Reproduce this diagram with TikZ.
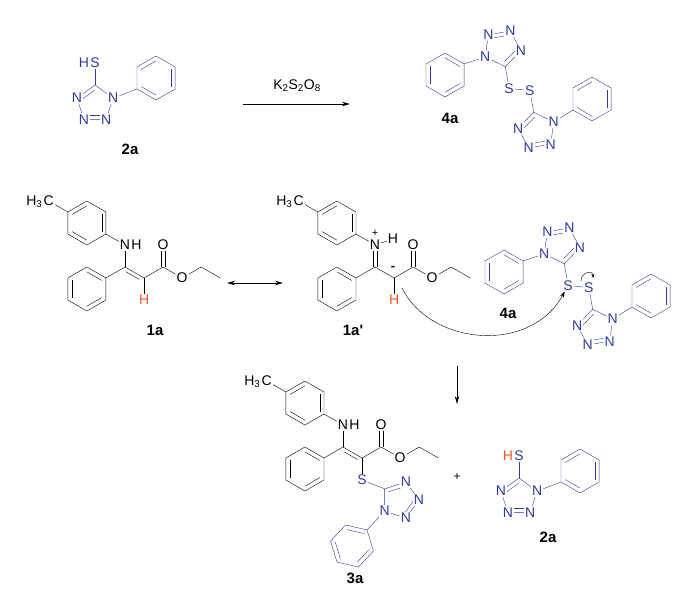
\documentclass[tikz,border=0pt]{standalone}
\usepackage{fontspec}
\setmainfont{Liberation Sans}
\usetikzlibrary{arrows.meta}
\usetikzlibrary{calc}
\usetikzlibrary{positioning}
\definecolor{chemblue}{RGB}{48,60,160}
\definecolor{chemred}{RGB}{238,84,40}
\pgfdeclarelayer{fg}
\pgfsetlayers{main,fg}
\tikzset{atom/.style={font=\fontsize{14}{16}\selectfont, inner sep=1pt, fill=white}}
\tikzset{cmpd/.style={font=\bfseries\fontsize{15}{17}\selectfont}}
\tikzset{reag/.style={font=\fontsize{14}{16}\selectfont}}
\tikzset{chg/.style={font=\fontsize{11}{12}\selectfont, inner sep=0pt}}
\tikzset{rxn/.style={-{Stealth[length=8pt,width=4.5pt]}, line width=0.9pt}}
\tikzset{blueunit/.style={color=chemblue, every node/.append style={text=chemblue}}}

\newcommand{\benz}[3]{%
  \coordinate (#1) at #2;
  \foreach \k in {1,...,6}{%
    \pgfmathsetmacro\ang{#3+60*(\k-1)}
    \coordinate (#1-\k) at ($(#1)+(\ang:22pt)$);
  }
  \draw (#1-1) -- (#1-2) -- (#1-3) -- (#1-4) -- (#1-5) -- (#1-6) -- cycle;
  \foreach \p/\q in {1/2,3/4,5/6}
    \draw ($(#1)!0.78!(#1-\p)$) -- ($(#1)!0.78!(#1-\q)$);
}

\newcommand{\tetz}[4]{%
  \coordinate (#1) at #2;
  \coordinate (#1-c) at ($(#1)+(#3:19pt)$);
  \begin{pgfonlayer}{fg}
    \foreach \k in {1,...,4}{%
      \pgfmathsetmacro\ang{#3-(#4)*72*\k}
      \node[atom] (#1-n\k) at ($(#1)+(\ang:19pt)$) {N};
    }
  \end{pgfonlayer}
  \draw (#1-c) -- (#1-n1) -- (#1-n2) -- (#1-n3) -- (#1-n4) -- (#1-c);
  \draw ($(#1)!0.74!(#1-c)$) -- ($(#1)!0.74!(#1-n4.center)$);
  \draw ($(#1)!0.74!(#1-n2.center)$) -- ($(#1)!0.74!(#1-n3.center)$);
}

\newcommand{\thiol}[2]{%
  \tetz{#1}{(95,-104)}{90}{1}
  \begin{pgfonlayer}{fg}
    \node[atom] (#1-s) at ($(#1-c)+(90:22pt)$) {S};
    \node[atom, anchor=base east, inner xsep=0pt, text=#2] (#1-h) at (#1-s.base west) {H};
  \end{pgfonlayer}
  \draw (#1-c) -- (#1-s);
  \benz{#1-ph}{(156,-78)}{210}
  \draw (#1-n1) -- (#1-ph-1);
}

\newcommand{\disulf}[1]{%
  \tetz{#1-t}{(561,-245)}{280}{1}
  \tetz{#1-b}{(596,-328)}{100}{1}
  \begin{pgfonlayer}{fg}
    \node[atom] (#1-sa) at ($(#1-t-c)+(280:22pt)$) {S};
    \node[atom] (#1-sb) at ($(#1-b-c)+(100:22pt)$) {S};
  \end{pgfonlayer}
  \draw (#1-t-c) -- (#1-sa) -- (#1-sb) -- (#1-b-c);
  \benz{#1-pt}{(504,-272)}{30}
  \benz{#1-pb}{(651,-296)}{210}
  \draw (#1-t-n1) -- (#1-pt-1);
  \draw (#1-b-n1) -- (#1-pb-1);
}

\newcommand{\skel}[1]{%
  \coordinate (#1-c3) at (125,-267);
  \coordinate (#1-c2) at ($(#1-c3)+(-30:22pt)$);
  \coordinate (#1-c1) at ($(#1-c2)+(30:22pt)$);
  \begin{pgfonlayer}{fg}
    \node[atom] (#1-n) at ($(#1-c3)+(90:22pt)$) {N};
    \node[atom] (#1-o) at ($(#1-c1)+(90:22pt)$) {O};
    \node[atom] (#1-oe) at ($(#1-c1)+(-30:22pt)$) {O};
    \node[atom] (#1-me) at ($(#1-n.center)+(150:88pt)$) {C};
    \node[atom, anchor=base east, inner xsep=0pt] (#1-meh) at (#1-me.base west) {H\textsubscript{3}};
  \end{pgfonlayer}
  \coordinate (#1-ch2) at ($(#1-oe.center)+(30:22pt)$);
  \coordinate (#1-ch3) at ($(#1-ch2)+(-30:22pt)$);
  \benz{#1-tol}{($(#1-n.center)+(150:44pt)$)}{-30}
  \benz{#1-ph}{($(#1-c3)+(210:44pt)$)}{30}
  \draw (#1-n) -- (#1-tol-1);
  \draw (#1-tol-4) -- (#1-me);
  \draw (#1-c3) -- (#1-ph-1);
  \draw (#1-c3) -- (#1-c2) -- (#1-c1) -- (#1-oe) -- (#1-ch2) -- (#1-ch3);
  \draw ([xshift=-1.8pt]#1-c1) -- ([xshift=-1.8pt]#1-o.south);
  \draw ([xshift=1.8pt]#1-c1) -- ([xshift=1.8pt]#1-o.south);
}

\begin{document}
\begin{tikzpicture}[x=1pt, y=1pt, line width=0.85pt, line join=round]
\useasboundingbox (0,0) rectangle (700,-597);

\begin{scope}[blueunit]
  \thiol{2at}{chemblue}
\end{scope}
\node[cmpd] (l2at) at (130,-149) {2a};

\coordinate (ox-s) at (243,-104);
\coordinate (ox-e) at (350,-104);
\draw[rxn] (ox-s) -- (ox-e);
\node[reag] (ox) at (297,-86) {K\textsubscript{2}S\textsubscript{2}O\textsubscript{8}};

\begin{scope}[blueunit, shift={(-59,197)}]
  \disulf{4at}
\end{scope}
\node[cmpd] (l4at) at (450,-118) {4a};

\skel{1a}
\begin{pgfonlayer}{fg}
  \node[atom, anchor=base west, inner xsep=0pt] (1a-nh) at (1a-n.base east) {H};
  \node[atom, text=chemred] (1a-h) at ($(1a-c2)+(-90:22pt)$) {H};
\end{pgfonlayer}
\draw (1a-n) -- (1a-c3);
\draw ($(1a-c3)!0.15!(1a-c2)+(-120:3.6pt)$) -- ($(1a-c3)!0.85!(1a-c2)+(-120:3.6pt)$);
\draw (1a-c2) -- (1a-h);
\node[cmpd] (l1a) at (155,-330) {1a};

\coordinate (res-l) at (227,-283);
\coordinate (res-r) at (283,-283);
\draw[rxn, {Stealth[length=8pt,width=4.5pt]}-{Stealth[length=8pt,width=4.5pt]}] (res-l) -- (res-r);

\begin{scope}[shift={(250,0)}]
  \skel{1ap}
  \begin{pgfonlayer}{fg}
    \node[atom] (1ap-nh) at ($(1ap-n.center)+(18,6)$) {H};
    \node[atom, text=chemred] (1ap-h) at ($(1ap-c2)+(-90:22pt)$) {H};
  \end{pgfonlayer}
  \node[chg] (1ap-plus) at ($(1ap-n.center)+(0,12)$) {+};
  \node[chg, font=\bfseries\fontsize{13}{13}\selectfont] (1ap-minus) at ($(1ap-c2)+(-1,10)$) {-};
  \draw (1ap-n) -- (1ap-nh);
  \draw ([xshift=-1.8pt]1ap-n.south) -- ([xshift=-1.8pt]1ap-c3);
  \draw ([xshift=1.8pt]1ap-n.south) -- ([xshift=1.8pt]1ap-c3);
  \draw (1ap-c2) -- (1ap-h);
\end{scope}
\node[cmpd] (l1ap) at (353,-330) {1a\textquotesingle};

\begin{scope}[blueunit]
  \disulf{4am}
\end{scope}
\node[cmpd] (l4am) at (508,-313) {4a};

\coordinate (arc-s) at (402,-288);
\draw[-{Stealth[length=6pt,width=4pt]}] (arc-s) .. controls (430,-345) and (530,-355) .. (4am-sa);
\coordinate (ss-s) at (581,-281);
\coordinate (ss-e) at (593,-278);
\draw[-{Stealth[length=4pt,width=3pt]}] (ss-s) to[out=90, in=90, looseness=1.8] (ss-e);

\coordinate (dn-s) at (457,-366);
\coordinate (dn-e) at (457,-404);
\draw[rxn] (dn-s) -- (dn-e);

\begin{scope}[shift={(218,-180)}]
  \skel{3a}
  \begin{pgfonlayer}{fg}
    \node[atom, anchor=base west, inner xsep=0pt] (3a-nh) at (3a-n.base east) {H};
  \end{pgfonlayer}
  \draw (3a-n) -- (3a-c3);
  \draw ($(3a-c3)!0.15!(3a-c2)+(-120:3.6pt)$) -- ($(3a-c3)!0.85!(3a-c2)+(-120:3.6pt)$);
\end{scope}
\begin{scope}[blueunit]
  \begin{pgfonlayer}{fg}
    \node[atom] (3a-s) at ($(3a-c2)+(-90:22pt)$) {S};
  \end{pgfonlayer}
  \tetz{3a-tz}{(400,-500)}{144}{-1}
  \draw (3a-s) -- (3a-tz-c);
  \benz{3a-ph2}{(352,-546)}{47}
  \draw (3a-tz-n1) -- (3a-ph2-1);
\end{scope}
\draw (3a-c2) -- (3a-s);
\node[cmpd] (l3a) at (355,-578) {3a};

\node[chg, font=\fontsize{12}{12}\selectfont] (plus) at (457,-477) {+};

\begin{scope}[blueunit, shift={(424,-393)}]
  \thiol{2ab}{chemred}
\end{scope}
\node[cmpd] (l2ab) at (548,-537) {2a};
\end{tikzpicture}
\end{document}
